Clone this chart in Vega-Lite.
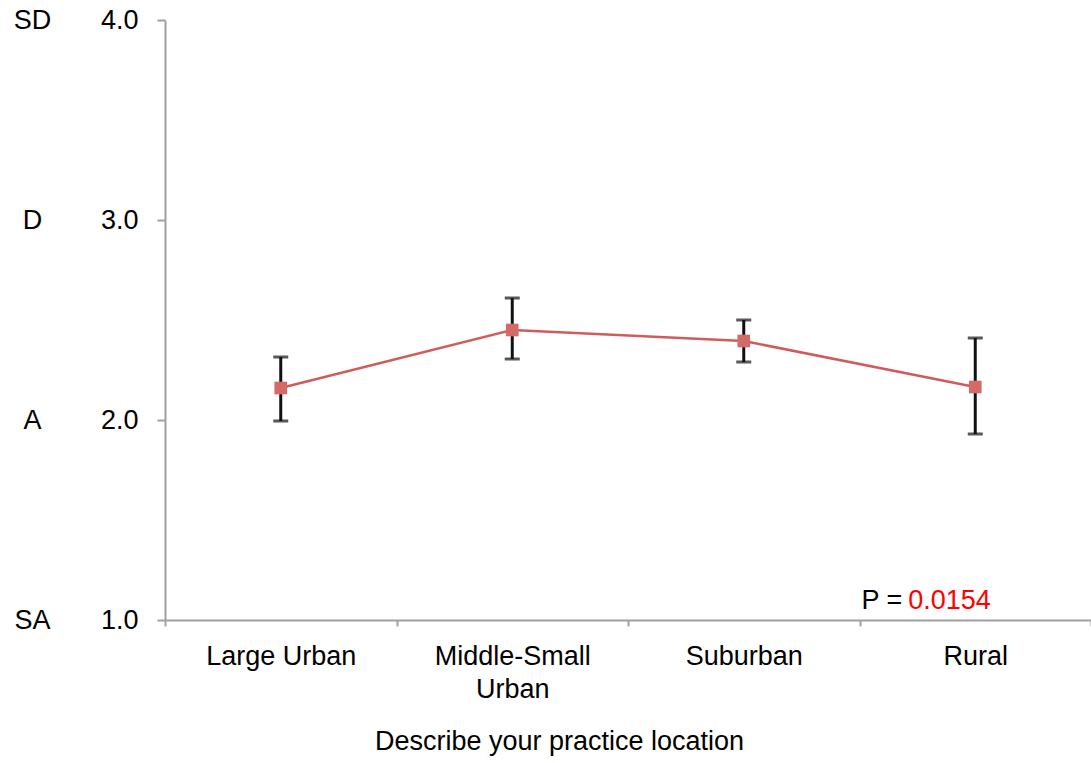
{
  "$schema": "https://vega.github.io/schema/vega-lite/v6.json",
  "autosize": {"type": "none"},
  "padding": {"left": 165, "top": 20, "right": 0, "bottom": 143},
  "width": 926,
  "height": 600,
  "background": "white",
  "config": {
    "view": {"stroke": null},
    "font": "Liberation Sans",
    "axis": {"labelFont": "Liberation Sans", "titleFont": "Liberation Sans", "labelColor": "#000", "titleColor": "#000", "domainColor": "#a0a0a0", "tickColor": "#a0a0a0", "domainWidth": 2, "tickWidth": 2, "grid": false}
  },
  "data": {"values": [
    {"loc": "Large Urban", "mean": 2.16, "lo": 1.995, "hi": 2.315},
    {"loc": "Middle-Small Urban", "mean": 2.45, "lo": 2.305, "hi": 2.61},
    {"loc": "Suburban", "mean": 2.395, "lo": 2.29, "hi": 2.5},
    {"loc": "Rural", "mean": 2.165, "lo": 1.93, "hi": 2.41}
  ]},
  "encoding": {
    "x": {
      "field": "loc", "type": "nominal", "sort": null,
      "scale": {"type": "band", "paddingInner": 0, "paddingOuter": 0},
      "axis": {
        "title": "Describe your practice location",
        "titleFontSize": 27, "titleFontWeight": "normal", "titleX": 394, "titlePadding": 26,
        "labelFontSize": 27, "labelAngle": 0, "labelPadding": 17, "labelLineHeight": 33,
        "labelExpr": "datum.label == 'Middle-Small Urban' ? ['Middle-Small', 'Urban'] : datum.label",
        "tickBand": "extent", "tickSize": 6
      }
    }
  },
  "layer": [
    {
      "mark": {"type": "errorbar", "ticks": {"size": 15}, "thickness": 3, "color": "#111"},
      "encoding": {
        "y": {"field": "lo", "type": "quantitative", "scale": {"domain": [1, 4], "nice": false, "zero": false}, "axis": null},
        "y2": {"field": "hi"}
      }
    },
    {
      "mark": {"type": "line", "color": "#cf5c5a", "strokeWidth": 2.5},
      "encoding": {
        "y": {"field": "mean", "type": "quantitative", "scale": {"domain": [1, 4], "nice": false, "zero": false},
          "axis": {"title": null, "values": [1, 2, 3, 4], "format": ".1f", "labelFontSize": 27, "tickSize": 8, "labelPadding": 19}}
      }
    },
    {
      "mark": {"type": "point", "shape": "square", "filled": true, "size": 160, "color": "#d46a68", "opacity": 1},
      "encoding": {
        "y": {"field": "mean", "type": "quantitative", "scale": {"domain": [1, 4], "nice": false, "zero": false},
          "axis": {"title": null, "orient": "left", "values": [1, 2, 3, 4], "labelExpr": "datum.value == 4 ? 'SD' : datum.value == 3 ? 'D' : datum.value == 2 ? 'A' : 'SA'", "labelFontSize": 27, "labelAlign": "center", "domain": false, "ticks": false, "labelPadding": 133}}
      }
    },
    {
      "data": {"values": [{"t": "P = "}]},
      "mark": {"type": "text", "align": "right", "baseline": "alphabetic", "dx": -73, "dy": -11, "fontSize": 27, "fontWeight": "normal", "color": "#000"},
      "encoding": {"text": {"field": "t"}, "x": {"datum": "Rural"}, "y": {"datum": 1, "axis": null}}
    },
    {
      "data": {"values": [{"t": "0.0154"}]},
      "mark": {"type": "text", "align": "left", "baseline": "alphabetic", "dx": -67, "dy": -11, "fontSize": 27, "fontWeight": "normal", "color": "#ff0000"},
      "encoding": {"text": {"field": "t"}, "x": {"datum": "Rural"}, "y": {"datum": 1, "axis": null}}
    }
  ],
  "resolve": {"axis": {"y": "independent"}}
}
